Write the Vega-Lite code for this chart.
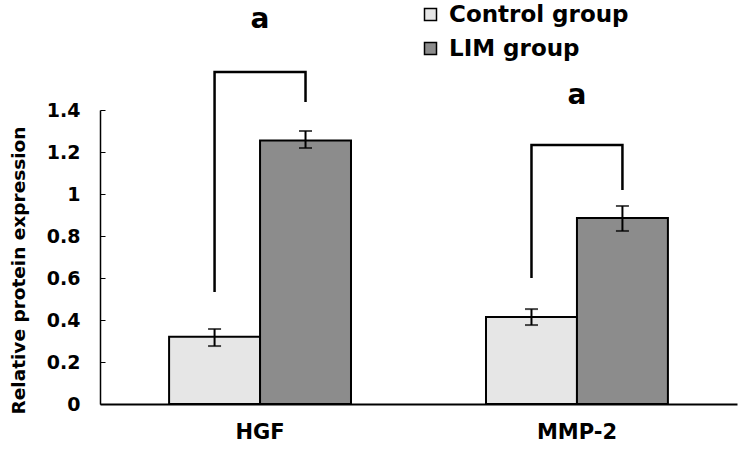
{
  "$schema": "https://vega.github.io/schema/vega-lite/v6.json",
  "autosize": {"type": "none"},
  "padding": {"left": 100, "top": 110, "right": 7, "bottom": 45},
  "width": 637,
  "height": 294,
  "background": "white",
  "config": {
    "view": {"stroke": null},
    "font": "DejaVu Sans"
  },
  "datasets": {
    "bars": [
      {"gene": "HGF", "group": "Control group", "value": 0.32, "lo": 0.276, "hi": 0.357},
      {"gene": "HGF", "group": "LIM group", "value": 1.255, "lo": 1.219, "hi": 1.30},
      {"gene": "MMP-2", "group": "Control group", "value": 0.414, "lo": 0.376, "hi": 0.452},
      {"gene": "MMP-2", "group": "LIM group", "value": 0.886, "lo": 0.824, "hi": 0.943}
    ],
    "brackets": [
      {"gene": "HGF", "group": "Control group", "y": 0.533, "ord": 1},
      {"gene": "HGF", "group": "Control group", "y": 1.581, "ord": 2},
      {"gene": "HGF", "group": "LIM group", "y": 1.581, "ord": 3},
      {"gene": "HGF", "group": "LIM group", "y": 1.438, "ord": 4},
      {"gene": "MMP-2", "group": "Control group", "y": 0.60, "ord": 1},
      {"gene": "MMP-2", "group": "Control group", "y": 1.233, "ord": 2},
      {"gene": "MMP-2", "group": "LIM group", "y": 1.233, "ord": 3},
      {"gene": "MMP-2", "group": "LIM group", "y": 1.019, "ord": 4}
    ],
    "labels": [
      {"gene": "HGF", "y": 1.83, "text": "a"},
      {"gene": "MMP-2", "y": 1.467, "text": "a"}
    ]
  },
  "encoding": {
    "x": {
      "field": "gene", "type": "nominal", "sort": ["HGF", "MMP-2"],
      "scale": {"paddingInner": 0.426, "paddingOuter": 0.218},
      "axis": {
        "title": null, "labelAngle": 0, "ticks": false,
        "domainColor": "black", "domainWidth": 2,
        "labelFont": "DejaVu Sans", "labelFontWeight": "bold", "labelFontSize": 21,
        "labelColor": "black", "labelPadding": 17
      }
    }
  },
  "layer": [
    {
      "data": {"name": "bars"},
      "mark": {"type": "bar", "stroke": "black", "strokeWidth": 2},
      "encoding": {
        "xOffset": {"field": "group", "type": "nominal", "scale": {"paddingInner": 0, "paddingOuter": 0}},
        "y": {
          "field": "value", "type": "quantitative",
          "scale": {"domain": [0, 1.4], "nice": false},
          "axis": {
            "title": "Relative protein expression",
            "titleFont": "DejaVu Sans", "titleFontSize": 18.5, "titleFontWeight": "bold",
            "titleColor": "black", "titlePadding": 18, "titleY": 160,
            "values": [0, 0.2, 0.4, 0.6, 0.8, 1, 1.2, 1.4], "format": "~g",
            "grid": false, "tickSize": -5, "tickColor": "black", "tickWidth": 1,
            "domainColor": "black", "domainWidth": 1.5,
            "labelFont": "DejaVu Sans", "labelFontWeight": "bold", "labelFontSize": 19,
            "labelColor": "black", "labelPadding": 25
          }
        },
        "fill": {
          "field": "group", "type": "nominal",
          "scale": {"domain": ["Control group", "LIM group"], "range": ["#e6e6e6", "#8c8c8c"]},
          "legend": {
            "title": null, "orient": "none", "legendX": 319, "legendY": -107,
            "symbolType": "square", "symbolSize": 144, "symbolStrokeColor": "black",
            "symbolStrokeWidth": 1.5, "labelFont": "DejaVu Sans", "labelFontWeight": "bold",
            "labelFontSize": 23, "labelColor": "black", "rowPadding": 10, "labelOffset": 7,
            "labelLimit": 400
          }
        }
      }
    },
    {
      "data": {"name": "bars"},
      "mark": {"type": "rule", "color": "black", "strokeWidth": 2},
      "encoding": {
        "xOffset": {"field": "group", "type": "nominal"},
        "y": {"field": "lo", "type": "quantitative"},
        "y2": {"field": "hi"}
      }
    },
    {
      "data": {"name": "bars"},
      "mark": {"type": "tick", "color": "black", "size": 13, "thickness": 2},
      "encoding": {
        "xOffset": {"field": "group", "type": "nominal"},
        "y": {"field": "lo", "type": "quantitative"}
      }
    },
    {
      "data": {"name": "bars"},
      "mark": {"type": "tick", "color": "black", "size": 13, "thickness": 2},
      "encoding": {
        "xOffset": {"field": "group", "type": "nominal"},
        "y": {"field": "hi", "type": "quantitative"}
      }
    },
    {
      "data": {"name": "brackets"},
      "mark": {"type": "line", "color": "black", "strokeWidth": 2.5, "strokeJoin": "miter"},
      "encoding": {
        "xOffset": {"field": "group", "type": "nominal"},
        "y": {"field": "y", "type": "quantitative"},
        "detail": {"field": "gene"},
        "order": {"field": "ord", "type": "quantitative"}
      }
    },
    {
      "data": {"name": "labels"},
      "mark": {"type": "text", "font": "DejaVu Sans", "fontWeight": "bold", "fontSize": 28, "baseline": "middle", "color": "black"},
      "encoding": {
        "y": {"field": "y", "type": "quantitative"},
        "text": {"field": "text"}
      }
    }
  ]
}
